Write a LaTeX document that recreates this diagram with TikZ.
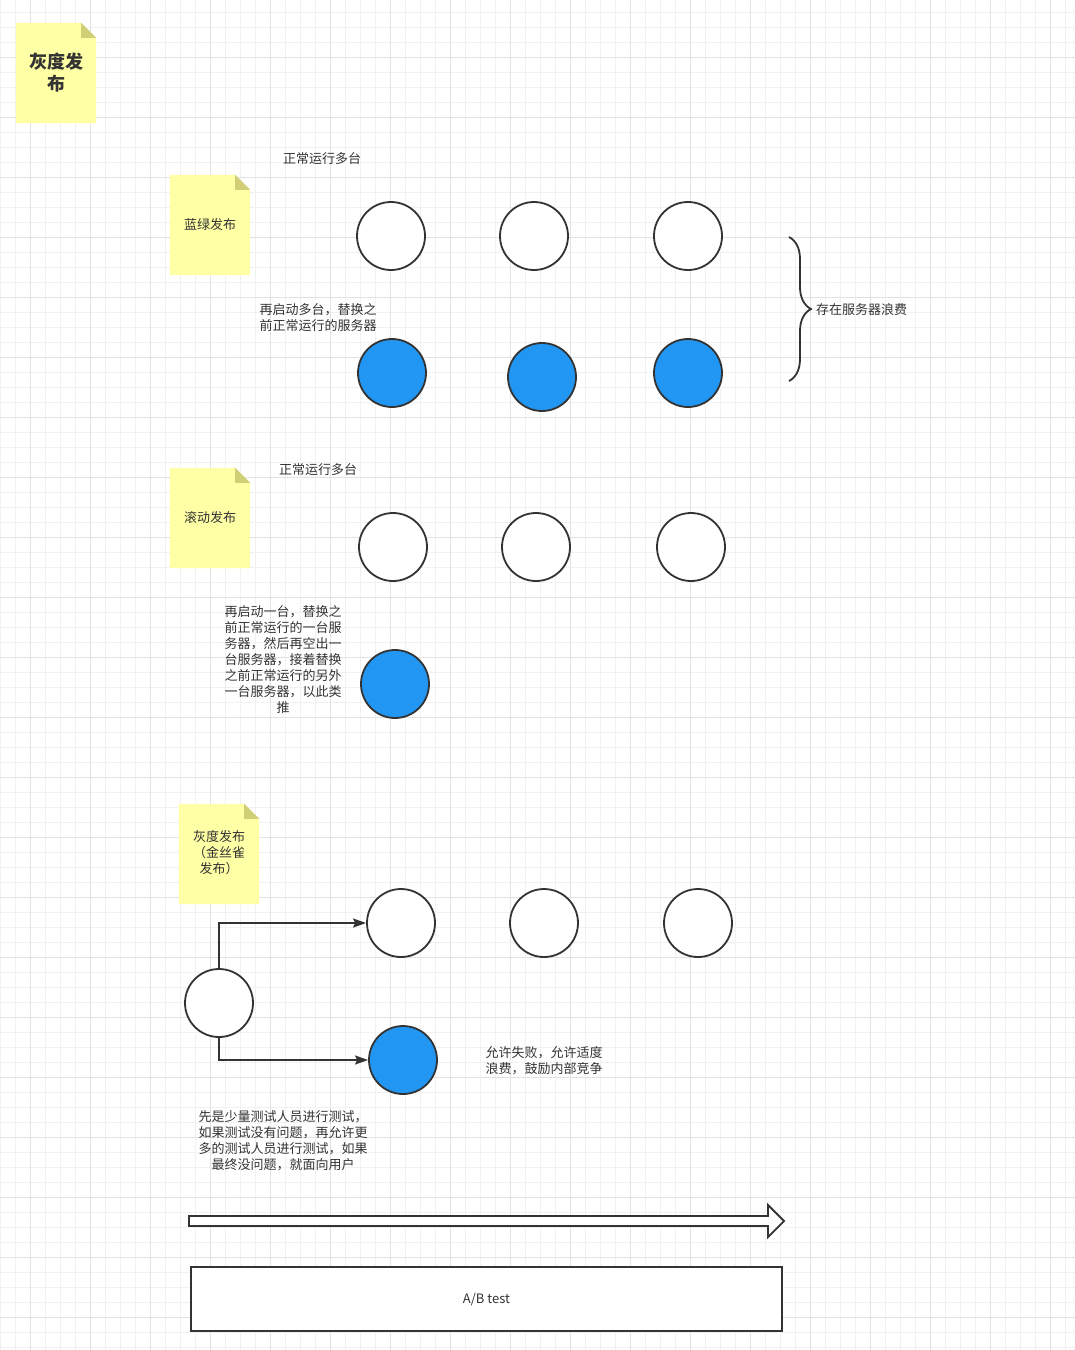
\documentclass[tikz,border=0pt]{standalone}
\usepackage{fontspec}
\setmainfont{Noto Sans CJK SC}
\usetikzlibrary{arrows.meta,decorations.pathreplacing,backgrounds}
\definecolor{ink}{RGB}{51,51,51}
\definecolor{gridminor}{RGB}{241,241,241}
\definecolor{gridmajor}{RGB}{226,226,226}
\definecolor{notefill}{RGB}{255,255,166}
\definecolor{notefold}{RGB}{209,206,120}
\definecolor{bluefill}{RGB}{33,150,243}
\tikzset{
  server/.style={circle,draw=ink,line width=1.8pt,minimum size=68pt,inner sep=0pt,fill=white},
  blueserver/.style={server,fill=bluefill},
  label/.style={text=ink,font=\fontsize{13}{16}\selectfont,align=center,inner sep=0pt},
  notebox/.style={minimum width=80pt,minimum height=100pt,inner sep=0pt,text=ink,align=center},
  flow/.style={draw=ink,line width=1.6pt,-{Stealth[length=13pt,width=9pt,inset=2pt]}},
  outline/.style={draw=ink,line width=1.8pt}
}
\newcommand{\notebg}[1]{%
  \fill[notefill] (#1.south west) -- (#1.north west) -- ([xshift=-15pt]#1.north east)
     -- ([yshift=-15pt]#1.north east) -- (#1.south east) -- cycle;
  \fill[notefold] ([xshift=-15pt]#1.north east) -- ([yshift=-15pt]#1.north east)
     -- ([xshift=-15pt,yshift=-15pt]#1.north east) -- cycle;}
\begin{document}
\begin{tikzpicture}[x=1pt,y=-1pt]
\useasboundingbox (0,0) rectangle (1075,1350);
% grid
\begin{pgfonlayer}{background}
\fill[white] (0,0) rectangle (1075,1350);
\foreach \i in {0,15,...,1075} \draw[gridminor,line width=0.8pt] (\i,0) -- (\i,1350);
\foreach \j in {-3,12,...,1350} \draw[gridminor,line width=0.8pt] (0,\j) -- (1075,\j);
\foreach \i in {30,90,...,1075} \draw[gridmajor,line width=0.8pt] (\i,0) -- (\i,1350);
\foreach \j in {-3,57,...,1350} \draw[gridmajor,line width=0.8pt] (0,\j) -- (1075,\j);
\end{pgfonlayer}

% notes
\node[notebox,font=\fontsize{18}{22}\selectfont\bfseries] (n1) at (56,73) {灰度发\\布};
\node[notebox,font=\fontsize{13}{16}\selectfont] (n2) at (210,225) {蓝绿发布};
\node[notebox,font=\fontsize{13}{16}\selectfont] (n3) at (210,518) {滚动发布};
\node[notebox,font=\fontsize{13}{16}\selectfont] (n4) at (219,854) {\begin{tabular}{@{}c@{}}灰度发布\\（金丝雀\\发布）\end{tabular}};
\begin{pgfonlayer}{background}
\notebg{n1}\notebg{n2}\notebg{n3}\notebg{n4}
\end{pgfonlayer}

% section 1: blue-green
\node[label] (t1) at (322,159) {正常运行多台};
\node[server] (a1) at (391,236) {};
\node[server] (a2) at (534,236) {};
\node[server] (a3) at (688,236) {};
\node[label] (t2) at (318,318) {再启动多台，替换之\\前正常运行的服务器};
\node[blueserver] (b1) at (392,373) {};
\node[blueserver] (b2) at (542,377) {};
\node[blueserver] (b3) at (688,373) {};
\coordinate (brtop) at (789,237);
\coordinate (brbot) at (789,381);
\draw[ink,line width=1.8pt,decorate,decoration={brace,amplitude=22pt,aspect=0.5}] (brtop) -- (brbot);
\node[label,anchor=west] (t3) at (816,310) {存在服务器浪费};

% section 2: rolling
\node[label] (t4) at (318,470) {正常运行多台};
\node[server] (c1) at (393,547) {};
\node[server] (c2) at (536,547) {};
\node[server] (c3) at (691,547) {};
\node[blueserver] (d1) at (395,684) {};
\node[label] (t5) at (283,660) {再启动一台，替换之\\前正常运行的一台服\\务器，然后再空出一\\台服务器，接着替换\\之前正常运行的另外\\一台服务器，以此类\\推};

% section 3: canary
\node[server] (e0) at (219,1003) {};
\node[server] (e1) at (401,923) {};
\node[server] (e2) at (544,923) {};
\node[server] (e3) at (698,923) {};
\node[blueserver] (f1) at (403,1060) {};
\draw[flow] (e0.north) |- (e1.west);
\draw[flow] (e0.south) |- (f1.west);
\node[label] (t6) at (544,1061) {允许失败，允许适度\\浪费，鼓励内部竞争};
\node[label] (t7) at (283,1141) {先是少量测试人员进行测试，\\如果测试没有问题，再允许更\\多的测试人员进行测试，如果\\最终没问题，就面向用户};

% timeline arrow
\draw[outline,fill=white,line join=miter] (189,1216) -- (768,1216) -- (768,1205) -- (784,1221) -- (768,1237) -- (768,1226) -- (189,1226) -- cycle;

% A/B test box
\node[outline,fill=white,minimum width=591pt,minimum height=64pt,inner sep=0pt,text=ink,font=\fontsize{13}{16}\selectfont] (ab) at (486.5,1299) {A/B test};
\end{tikzpicture}
\end{document}
